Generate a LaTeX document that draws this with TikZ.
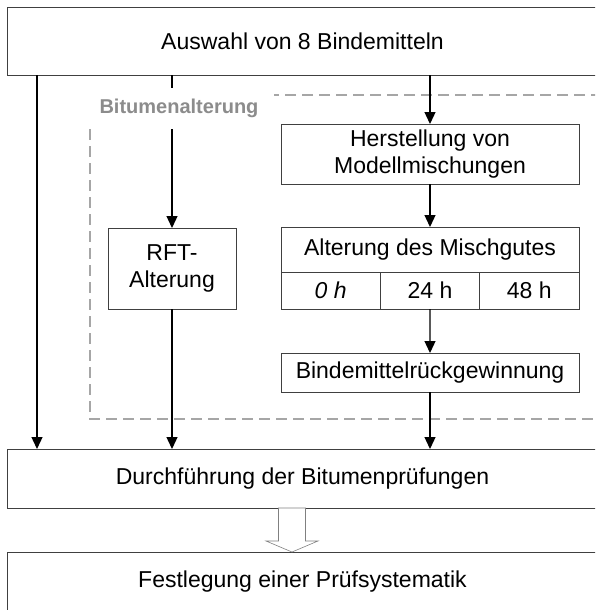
\documentclass[tikz,border=0pt]{standalone}
\usepackage{fontspec}
\setmainfont{Liberation Sans}
\usepackage{tikz}
\usetikzlibrary{arrows.meta,positioning}

\definecolor{rahmen}{HTML}{404040}
\definecolor{strichgrau}{HTML}{A6A6A6}
\definecolor{titelgrau}{HTML}{8C8C8C}

\begin{document}
\begin{tikzpicture}[x=1pt, y=-1pt, >={Triangle[width=11pt,length=12pt]},
  box/.style={draw=rahmen, line width=0.8pt, fill=white, inner sep=0pt, outer sep=0pt, align=center, font=\fontsize{23}{27}\selectfont},
  zelle/.style={box, minimum width=99.33pt, minimum height=37pt},
  pfeil/.style={->, line width=1.3pt},
  hohlpfeil/.style={draw=gray, fill=white, line width=0.6pt}]
\clip (0,0) rectangle (595,610);
\node[box, minimum width=591pt, minimum height=68pt] (auswahl) at (302.5,41) {Auswahl von 8 Bindemitteln};
\node[box, minimum width=298pt, minimum height=60pt] (herst) at (430,154) {Herstellung von\\Modellmischungen};
\node[box, minimum width=298pt, minimum height=45pt] (alter) at (430,249.5) {Alterung des Mischgutes};
\node[zelle, anchor=north west] (c0) at (alter.south west) {\textit{0 h}};
\node[zelle, right=0pt of c0] (c24) {24 h};
\node[zelle, right=0pt of c24] (c48) {48 h};
\node[box, minimum width=298pt, minimum height=39pt] (rueck) at (430,372.5) {Bindemittelrückgewinnung};
\node[box, minimum width=128pt, minimum height=81pt] (rft) at (172,268.5) {RFT-\\Alterung};
\node[box, minimum width=591pt, minimum height=59pt] (durch) at (302.5,478.5) {Durchführung der Bitumenprüfungen};
\node[box, minimum width=591pt, minimum height=60pt] (fest) at (302.5,582) {Festlegung einer Prüfsystematik};

% Rahmen Bitumenalterung
\draw[strichgrau, line width=1.5pt, dash pattern=on 11pt off 6pt] (90,95) rectangle (600,419);

\draw[pfeil] ([xshift=30pt]auswahl.south west) -- ([xshift=30pt]durch.north west);
\draw[pfeil] (auswahl.south -| rft.north) -- (rft);
\draw[pfeil] (rft) -- (rft |- durch.north);
\draw[pfeil] (auswahl.south -| herst.north) -- (herst);
\draw[pfeil] (herst) -- (alter);
\draw[pfeil] (c24) -- (rueck);
\draw[pfeil] (rueck) -- (rueck |- durch.north);

% Blockpfeil
\coordinate (hp) at (292,508);
\draw[hohlpfeil] (hp) ++(-13.5,0) -- ++(0,33) -- ++(-12.5,0) -- ++(26,11) -- ++(26,-11) -- ++(-12.5,0) -- ++(0,-33) -- cycle;

\node[fill=white, text=titelgrau, font=\fontsize{20}{24}\selectfont\bfseries, minimum width=190pt, minimum height=41pt, inner sep=0pt] (titel) at (179,108.5) {Bitumenalterung};
\end{tikzpicture}
\end{document}
